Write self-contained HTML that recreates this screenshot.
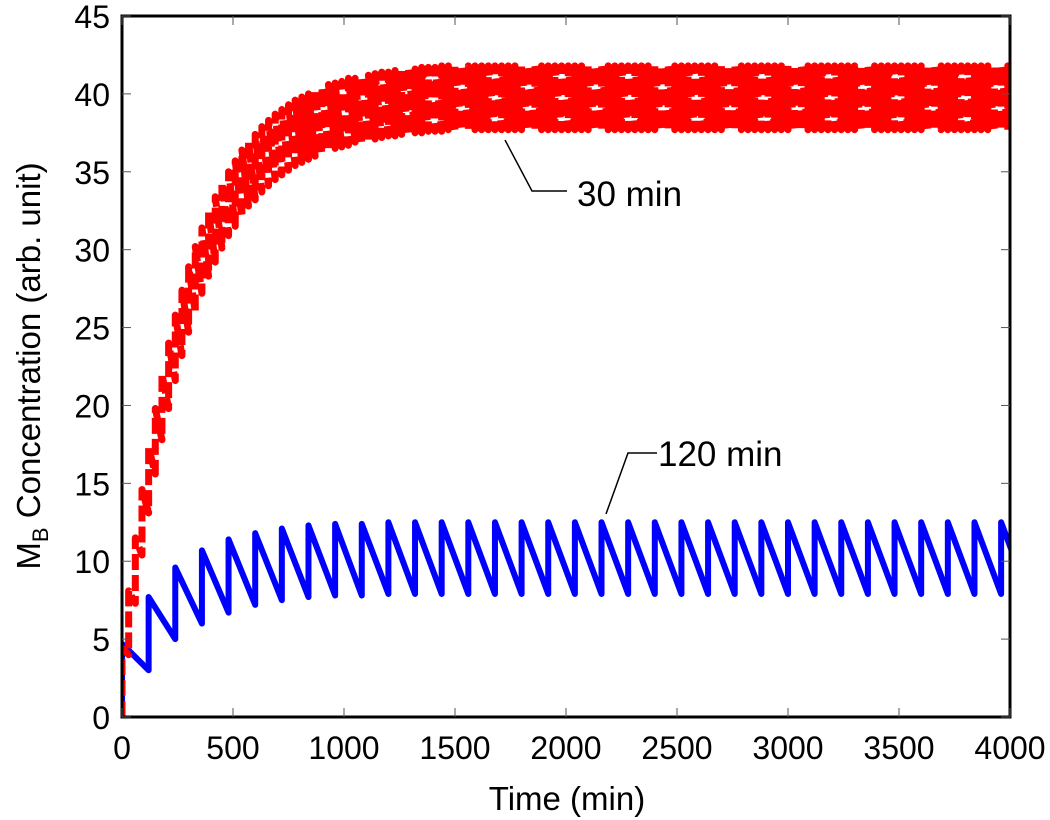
<!DOCTYPE html>
<html><head><meta charset="utf-8"><style>
html,body{margin:0;padding:0;background:#fff;}
svg{display:block;font-family:"Liberation Sans",Arial,sans-serif;}
</style></head><body>
<svg id="chart" width="1050" height="820" viewBox="0 0 1050 820">
<defs><clipPath id="plotclip"><rect x="122" y="16" width="888" height="701"/></clipPath></defs>
<g id="marks" clip-path="url(#plotclip)"></g>
<g id="axes"></g>
<g>
<polyline points="505,140 532,191 567,191" fill="none" stroke="#000" stroke-width="1.5"/>
<text x="577" y="206" font-size="35">30 min</text>
</g>
<g>
<polyline points="606,514 628,453 657,453" fill="none" stroke="#000" stroke-width="1.5"/>
<text x="658" y="466" font-size="35">120 min</text>
</g>
<text x="567" y="810" font-size="33" text-anchor="middle">Time (min)</text>
<text transform="translate(40,366) rotate(-90)" font-size="33" text-anchor="middle">M<tspan font-size="22" dy="8">B</tspan><tspan dy="-8"> Concentration (arb. unit)</tspan></text>
</svg>
<script>
const xTicks = [0,500,1000,1500,2000,2500,3000,3500,4000];
const yTicks = [0,5,10,15,20,25,30,35,40,45];
const bluePeriod = 120;
const bluePeaks = [4.7,7.7,9.6,10.7,11.4,11.8,12.1,12.3,12.4,12.4,12.5,12.5,12.5,12.5,12.5,12.5,12.5,12.5,12.5,12.5,12.5,12.5,12.5,12.5,12.5,12.5,12.5,12.5,12.5,12.5,12.5,12.5,12.5,12.5];
const blueTroughs = [3.0,5.0,6.0,6.7,7.2,7.5,7.7,7.8,7.8,7.9,7.9,7.9,7.9,7.9,7.9,7.9,7.9,7.9,7.9,7.9,7.9,7.9,7.9,7.9,7.9,7.9,7.9,7.9,7.9,7.9,7.9,7.9,7.9,7.9];
const redPeriod = 30;
const redPeaks = [4.4,8.1,11.5,14.6,17.3,19.8,22.0,24.0,25.8,27.4,28.9,30.2,31.4,32.4,33.4,34.3,35.0,35.7,36.4,36.9,37.4,37.9,38.3,38.7,39.0,39.3,39.6,39.8,40.0,40.2,40.4,40.6,40.7,40.8,41.0,41.0,41.1,41.2,41.3,41.4,41.4,41.5,41.5,41.6,41.6,41.7,41.7,41.7,41.8,41.8,
41.8,41.8,41.8,41.8,41.8,41.8,41.8,41.8,41.8,41.8,41.8,41.8,41.8,41.8,41.8,41.8,41.8,41.8,41.8,41.8,41.8,41.8,41.8,41.8,41.8,41.8,41.8,41.8,41.8,41.8,41.8,41.8,41.8,41.8,41.8,41.8,41.8,41.8,41.8,41.8,41.8,41.8,41.8,41.8,41.8,41.8,41.8,41.8,41.8,41.8,41.8,41.8,41.8,41.8,41.8,41.8,41.8,41.8,41.8,41.8,41.8,41.8,41.8,41.8,41.8,41.8,41.8,41.8,41.8,41.8,41.8,41.8,41.8,41.8,41.8,41.8,41.8,41.8,41.8,41.8,41.8,41.8,41.8,41.8];
const redTroughs = [4.0,7.3,10.4,13.1,15.6,17.8,19.8,21.6,23.2,24.7,26.0,27.2,28.3,29.2,30.1,30.9,31.5,32.1,32.8,33.2,33.7,34.1,34.5,34.8,35.1,35.4,35.6,35.8,36.0,36.2,36.4,36.5,36.6,36.7,36.9,36.9,37.0,37.1,37.2,37.3,37.3,37.4,37.4,37.5,37.5,37.6,37.6,37.6,37.7,37.7,
37.7,37.7,37.7,37.7,37.7,37.7,37.7,37.7,37.7,37.7,37.7,37.7,37.7,37.7,37.7,37.7,37.7,37.7,37.7,37.7,37.7,37.7,37.7,37.7,37.7,37.7,37.7,37.7,37.7,37.7,37.7,37.7,37.7,37.7,37.7,37.7,37.7,37.7,37.7,37.7,37.7,37.7,37.7,37.7,37.7,37.7,37.7,37.7,37.7,37.7,37.7,37.7,37.7,37.7,37.7,37.7,37.7,37.7,37.7,37.7,37.7,37.7,37.7,37.7,37.7,37.7,37.7,37.7,37.7,37.7,37.7,37.7,37.7,37.7,37.7,37.7,37.7,37.7,37.7,37.7,37.7,37.7,37.7,37.7];

const NS = "http://www.w3.org/2000/svg";
const X0 = 122, X1 = 1010, Y0 = 717, Y1 = 16;
function xs(t){ return X0 + (t - 0) / 4000 * (X1 - X0); }
function ys(v){ return Y0 - v / 45 * (Y0 - Y1); }
const marks = document.getElementById('marks');
const axes = document.getElementById('axes');

function sawPath(peaks, troughs, period){
  let d = "M" + xs(0) + "," + ys(0);
  for (let i = 0; i < peaks.length; i++){
    const t = i * period;
    d += " L" + xs(t) + "," + ys(peaks[i]);
    d += " L" + xs(t + period) + "," + ys(troughs[i]);
  }
  return d;
}
const blue = document.createElementNS(NS, 'path');


blue.setAttribute('d', sawPath(bluePeaks, blueTroughs, bluePeriod));
blue.setAttribute('fill', 'none');
blue.setAttribute('stroke', '#0000ff');
blue.setAttribute('stroke-width', '6');
blue.setAttribute('stroke-linejoin', 'round');
marks.appendChild(blue);

const red = document.createElementNS(NS, 'path');


red.setAttribute('d', sawPath(redPeaks, redTroughs, redPeriod));
red.setAttribute('fill', 'none');
red.setAttribute('stroke', '#ff0000');
red.setAttribute('stroke-width', '7');
red.setAttribute('stroke-dasharray', '16 5');
red.setAttribute('stroke-linejoin', 'round');
marks.appendChild(red);

const frame = document.createElementNS(NS, 'rect');


frame.setAttribute('x', X0); frame.setAttribute('y', Y1);
frame.setAttribute('width', X1 - X0); frame.setAttribute('height', Y0 - Y1);
frame.setAttribute('fill', 'none'); frame.setAttribute('stroke', '#000'); frame.setAttribute('stroke-width', '3');
axes.appendChild(frame);

xTicks.forEach(function(t){
  const x = xs(t);
  [[Y0, Y0 - 9], [Y1, Y1 + 9]].forEach(function(p){
    const l = document.createElementNS(NS, 'line');
    
    
    l.setAttribute('x1', x); l.setAttribute('x2', x); l.setAttribute('y1', p[0]); l.setAttribute('y2', p[1]);
    l.setAttribute('stroke', '#555'); l.setAttribute('stroke-width', '1');
    axes.appendChild(l);
  });
  const tx = document.createElementNS(NS, 'text');
  
  
  tx.setAttribute('x', x); tx.setAttribute('y', 759);
  tx.setAttribute('font-size', '32'); tx.setAttribute('text-anchor', 'middle');
  tx.textContent = String(t);
  axes.appendChild(tx);
});
yTicks.forEach(function(v){
  const y = ys(v);
  [[X0, X0 + 9], [X1, X1 - 9]].forEach(function(p){
    const l = document.createElementNS(NS, 'line');
    
    
    l.setAttribute('x1', p[0]); l.setAttribute('x2', p[1]); l.setAttribute('y1', y); l.setAttribute('y2', y);
    l.setAttribute('stroke', '#555'); l.setAttribute('stroke-width', '1');
    axes.appendChild(l);
  });
  const tx = document.createElementNS(NS, 'text');
  
  
  tx.setAttribute('x', 110); tx.setAttribute('y', y + 12);
  tx.setAttribute('font-size', '32'); tx.setAttribute('text-anchor', 'end');
  tx.textContent = String(v);
  axes.appendChild(tx);
});
</script>
</body></html>
